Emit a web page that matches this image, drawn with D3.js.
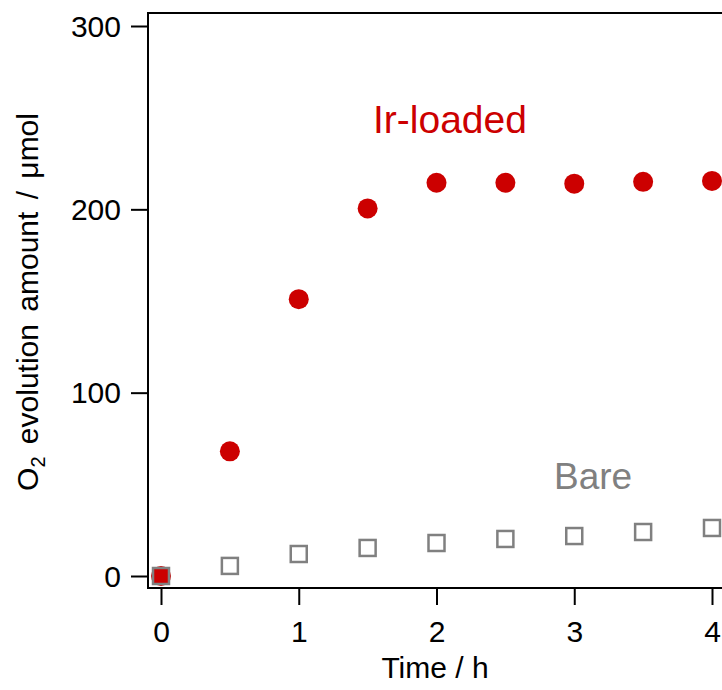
<!DOCTYPE html>
<html>
<head>
<meta charset="utf-8">
<script src="https://cdn.jsdelivr.net/npm/d3@7"></script>
<style>
  body { margin: 0; background: #fff; }
  svg { display: block; font-family: "Liberation Sans", Arial, sans-serif; }
</style>
</head>
<body>
<svg id="chart" width="722" height="690"></svg>
<script>
// time points (h)
const times = [0, 0.5, 1, 1.5, 2, 2.5, 3, 3.5, 4];
// O2 evolved (µmol)
const irLoaded = [0, 68, 151, 200.5, 214.5, 214.5, 214, 215, 215.5];
const bare = [0, 5.5, 12, 15.3, 18, 20.2, 21.8, 24, 26.2];
const xTicks = [0, 1, 2, 3, 4];
const yTicks = [0, 100, 200, 300];

const width = 722, height = 690;
const frame = {left: 148, top: 13, right: 722, bottom: 588};
const fontFam = '"Liberation Sans", Arial, sans-serif';

const svg = d3.select('#chart');

const x = d3.scaleLinear().domain([0, 4]).range([161, 712]);
const y = d3.scaleLinear().domain([0, 300]).range([576, 26]);

// frame: left, top, bottom
svg.append('path')
  .attr('d', `M${frame.right},${frame.top}H${frame.left}V${frame.bottom}H${frame.right}`)
  .attr('fill', 'none')
  .attr('stroke', '#000')
  .attr('stroke-width', 2);

const xAxis = svg.append('g')
  .attr('transform', `translate(0,${frame.bottom})`)
  .call(d3.axisBottom(x).tickValues(xTicks).tickSize(17).tickFormat(d3.format('d')));
xAxis.select('.domain').remove();
xAxis.selectAll('line').attr('stroke-width', 2);
xAxis.selectAll('text')
  .attr('y', 54).attr('dy', 0)
  .attr('font-size', 30).attr('font-family', fontFam)
  .attr('fill', '#000');

const yAxis = svg.append('g')
  .attr('transform', `translate(${frame.left},0)`)
  .call(d3.axisLeft(y).tickValues(yTicks).tickSize(17).tickFormat(d3.format('d')));
yAxis.select('.domain').remove();
yAxis.selectAll('line').attr('stroke-width', 2);
yAxis.selectAll('text')
  .attr('x', -27).attr('dy', '0.34em')
  .attr('font-size', 30).attr('font-family', fontFam)
  .attr('fill', '#000');

// Ir-loaded circles
svg.append('g').selectAll('circle')
  .data(times.map((t, i) => [t, irLoaded[i]]))
  .enter().append('circle')
  .attr('cx', d => x(d[0]))
  .attr('cy', d => y(d[1]))
  .attr('r', 10)
  .attr('fill', '#cc0000');

// Bare squares
const s = 16;
svg.append('g').selectAll('rect')
  .data(times.map((t, i) => [t, bare[i]]))
  .enter().append('rect')
  .attr('x', d => x(d[0]) - s / 2)
  .attr('y', d => y(d[1]) - s / 2)
  .attr('width', s)
  .attr('height', s)
  .attr('fill', 'none')
  .attr('stroke', '#808080')
  .attr('stroke-width', 2.5);

// series labels
svg.append('text')
  .attr('x', 373).attr('y', 133)
  .attr('font-size', 39)
  .attr('fill', '#cc0000')
  .text('Ir-loaded');

svg.append('text')
  .attr('x', 554).attr('y', 489)
  .attr('font-size', 37)
  .attr('fill', '#808080')
  .text('Bare');

// axis titles
svg.append('text')
  .attr('x', 435).attr('y', 678)
  .attr('text-anchor', 'middle')
  .attr('font-size', 30)
  .text('Time / h');

const yl = svg.append('text')
  .attr('transform', 'translate(38,302) rotate(-90)')
  .attr('text-anchor', 'middle')
  .attr('font-size', 30)
  .attr('word-spacing', 4);
yl.append('tspan').text('O');
yl.append('tspan').attr('font-size', 20).attr('dy', 7).text('2');
yl.append('tspan').attr('dy', -7).text(' evolution amount / \u03bcmol');
</script>
</body>
</html>
